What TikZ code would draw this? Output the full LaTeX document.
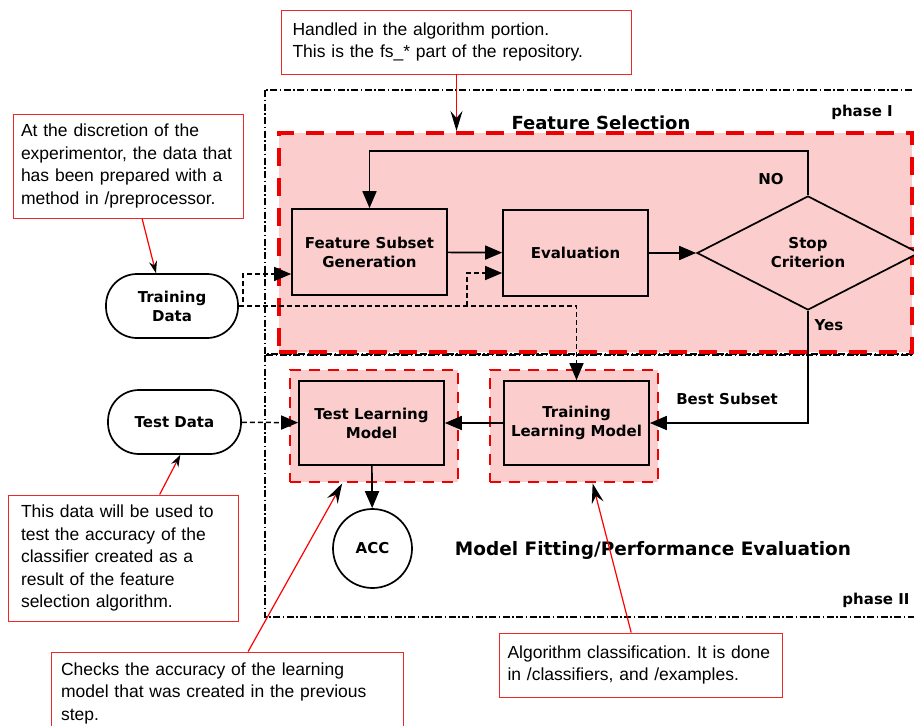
\documentclass[tikz,border=0pt]{standalone}
\usepackage{fontspec}
\usetikzlibrary{arrows.meta,shapes.geometric,calc}
\newfontfamily\boxfont{DejaVu Sans}
\newfontfamily\notefont{Liberation Sans}
\definecolor{boxpink}{RGB}{251,205,205}
\definecolor{dashred}{RGB}{238,0,0}
\definecolor{notered}{RGB}{236,40,40}
\frenchspacing

\begin{document}
\begin{tikzpicture}[x=1pt,y=-1pt]
	\tikzstyle{every node}+=[inner sep=0pt]
	\tikzstyle{proc}=[draw=black,line width=1.7pt,fill=boxpink,minimum width=145pt,minimum height=85pt,align=center,font=\boxfont\bfseries\fontsize{15}{19}\selectfont]
	\tikzstyle{term}=[draw=black,line width=1.7pt,fill=white,rounded corners=31pt,minimum width=133pt,minimum height=64pt,align=center,font=\boxfont\bfseries\fontsize{15}{19}\selectfont]
	\tikzstyle{note}=[draw=notered,line width=0.9pt,fill=white,align=left,font=\notefont\fontsize{17.5}{22.5}\selectfont]
	\tikzstyle{flow}=[draw=black,line width=1.7pt,-{Triangle[length=17pt,width=14pt]}]
	\tikzstyle{dataflow}=[flow,line width=1.5pt,dash pattern=on 5pt off 3pt]
	\tikzstyle{pointer}=[draw=red,line width=1.2pt,-{Stealth[black,length=20pt,width=12pt,inset=7pt]}]
	\tikzstyle{smallpointer}=[draw=red,line width=1.2pt,-{Stealth[black,length=12pt,width=8pt,inset=4pt]}]
	\tikzstyle{phasebox}=[draw=black,line width=1.5pt,dash pattern=on 7pt off 2.5pt on 1.5pt off 2.5pt]
	\tikzstyle{selregion}=[draw=dashred,line width=4pt,dash pattern=on 18pt off 12pt,fill=boxpink]
	\tikzstyle{modelgrp}=[draw=dashred,line width=2.8pt,dash pattern=on 11pt off 8pt,fill=boxpink,minimum width=168pt,minimum height=112pt]
	\tikzstyle{flowtag}=[font=\boxfont\bfseries\fontsize{15}{19}\selectfont]
	\tikzstyle{headtext}=[font=\boxfont\bfseries\fontsize{18}{22}\selectfont]

	\useasboundingbox (0,0) rectangle (914,726);
	\clip (0,0) rectangle (914,726);

	\draw [phasebox] (265,90) rectangle (925,354);
	\draw [phasebox] (265,355) rectangle (925,617);
	\node [selregion,minimum width=633pt,minimum height=219pt] (fsreg) at (595.5,242.5) {};
	\node [modelgrp] (tlmgrp) at (374,426) {};
	\node [modelgrp] (trlmgrp) at (574,426) {};

	\node [proc,minimum width=155pt,minimum height=86pt] (fsg) at (369.5,252) {Feature Subset\\Generation};
	\node [proc,minimum height=86pt] (eval) at (575.5,253) {Evaluation};
	\node [draw=black,line width=1.7pt,diamond,fill=boxpink,minimum width=222pt,minimum height=114pt,align=center,font=\boxfont\bfseries\fontsize{15}{19}\selectfont] (stop) at (808,253) {Stop\\Criterion};
	\node [proc,minimum height=84pt] (tlm) at (371.5,423) {Test Learning\\Model};
	\node [proc,minimum height=84pt] (trlm) at (576.5,423) {Training\\Learning Model};
	\node [term,minimum width=132pt] (traindata) at (172,306) {Training\\Data};
	\node [term] (testdata) at (174.5,422) {Test Data};
	\node [draw=black,line width=1.7pt,circle,fill=white,minimum size=79pt,font=\boxfont\bfseries\fontsize{15}{19}\selectfont] (acc) at (372.5,548.5) {ACC};

	\draw [flow] (fsg) -- (eval);
	\draw [flow] (eval) -- (stop);
	\draw [flow] (stop.north) -- ++(0,-44) -| (fsg.north);
	\draw [flow] (stop.south) |- (trlm.east);
	\draw [flow] (trlm) -- (tlm);
	\draw [flow] (tlm) -- (acc);
	\draw [dataflow] (testdata) -- (tlm);
	\draw [dataflow] (traindata.east) -- ++(4,0) |- ($(fsg.west)+(0,22)$);
	\draw [dataflow] (traindata.east) -| (trlm.north);
	\draw [dataflow] ($(eval.west)+(-35,53)$) -- ++(0,-33) -- ++(35,0);

	\node [flowtag] (notag) at (771,179) {NO};
	\node [flowtag] (yestag) at (829,325) {Yes};
	\node [flowtag] (besttag) at (727,399) {Best Subset};
	\node [flowtag] (phaseone) at (862,112) {phase I};
	\node [flowtag] (phasetwo) at (876,600) {phase II};
	\node [headtext] (fstitle) at (601,123) {Feature Selection};
	\node [headtext,font=\boxfont\bfseries\fontsize{18.5}{22}\selectfont] (mftitle) at (653,550) {Model Fitting/Performance Evaluation};

	\node [note,minimum width=350pt,minimum height=64pt,text width=328pt] (handlednote) at (456.5,42) {Handled in the algorithm portion.\\This is the fs\_* part of the repository.};
	\node [note,minimum width=230pt,minimum height=104pt,text width=214pt] (discrnote) at (128,166) {At the discretion of the\\experimentor, the data that\\has been prepared with a\\method in /preprocessor.};
	\node [note,minimum width=230pt,minimum height=126pt,text width=204pt] (testnote) at (123,558) {This data will be used to\\test the accuracy of the\\classifier created as a\\result of the feature\\selection algorithm.};
	\node [note,minimum width=352pt,minimum height=82pt,text width=332pt] (checknote) at (227,693) {Checks the accuracy of the learning\\model that was created in the previous\\step.};
	\node [note,minimum width=283pt,minimum height=64pt,text width=266pt] (classnote) at (640.5,665) {Algorithm classification. It is done\\in /classifiers, and /examples.};

	\draw [pointer] (handlednote) -- (handlednote |- fsreg.north);
	\draw [smallpointer] (discrnote.-75) -- (traindata.116);
	\draw [smallpointer] (testnote.60) -- (testdata.-80);
	\draw [pointer] (checknote.63) -- (tlmgrp.-119);
	\draw [pointer] (classnote.106) -- (trlmgrp.-72);
\end{tikzpicture}
\end{document}
